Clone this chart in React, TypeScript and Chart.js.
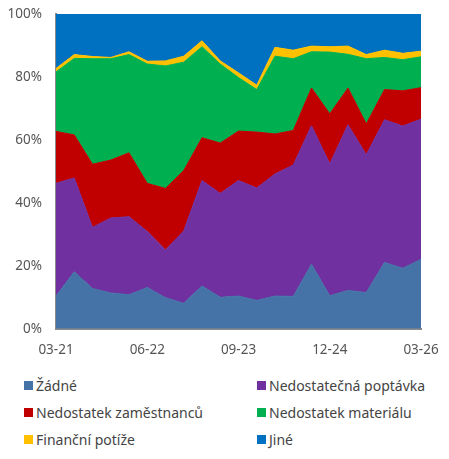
import React, { useEffect, useRef } from "react";
import { Chart, registerables } from "chart.js";

Chart.register(...registerables);

const quarters = [
  "03-21", "06-21", "09-21", "12-21", "03-22", "06-22", "09-22", "12-22",
  "03-23", "06-23", "09-23", "12-23", "03-24", "06-24", "09-24", "12-24",
  "03-25", "06-25", "09-25", "12-25", "03-26",
];

const zadne = [10.4, 18.1, 12.8, 11.4, 10.8, 13.1, 9.9, 8.1, 13.6, 10.0, 10.4, 9.0, 10.4, 10.3, 20.5, 10.5, 12.2, 11.5, 21.1, 19.2, 22.1];
const poptavka = [35.8, 29.8, 19.4, 23.8, 24.8, 17.8, 15.1, 23.0, 33.5, 33.0, 36.7, 35.7, 38.8, 41.7, 44.0, 41.9, 52.6, 43.8, 45.3, 45.2, 44.5];
const zamestnancu = [16.5, 13.7, 20.1, 18.4, 20.3, 15.3, 19.6, 19.2, 13.6, 16.0, 15.7, 17.8, 12.7, 11.0, 12.0, 15.9, 11.7, 9.8, 9.6, 11.2, 10.0];
const material = [18.9, 24.3, 33.5, 32.2, 31.2, 37.9, 38.9, 34.4, 28.9, 25.1, 17.0, 13.5, 24.7, 22.8, 11.5, 19.6, 10.7, 20.7, 10.2, 9.9, 9.8];
const financni = [1.1, 1.2, 0.7, 0.4, 0.9, 0.9, 1.6, 1.9, 1.9, 1.0, 1.5, 1.4, 2.8, 2.7, 1.8, 1.7, 2.6, 1.3, 2.3, 2.0, 1.8];
const jine = [17.3, 12.9, 13.5, 13.8, 12.0, 15.0, 14.9, 13.4, 8.5, 14.9, 18.7, 22.6, 10.6, 11.5, 10.2, 10.4, 10.2, 12.9, 11.5, 12.5, 11.8];

const seriesNames = [
  "Žádné",
  "Nedostatečná poptávka",
  "Nedostatek zaměstnanců",
  "Nedostatek materiálu",
  "Finanční potíže",
  "Jiné",
];
const seriesColors = ["#4573A7", "#7030A0", "#C00000", "#00B050", "#FFC000", "#0070C0"];
const seriesData = [zadne, poptavka, zamestnancu, material, financni, jine];

const FONT = "'Noto Sans', sans-serif";

export default function App() {
  const canvasRef = useRef<HTMLCanvasElement | null>(null);

  useEffect(() => {
    if (!canvasRef.current) return;
    const chart = new Chart(canvasRef.current, {
      type: "line",
      data: {
        labels: quarters,
        datasets: seriesData.map((d, i) => ({
          label: seriesNames[i],
          data: d,
          backgroundColor: seriesColors[i],
          borderColor: seriesColors[i],
          borderWidth: 1,
          pointRadius: 0,
          tension: 0,
          fill: i === 0 ? "origin" : "-1",
        })),
      },
      options: {
        animation: false,
        responsive: true,
        maintainAspectRatio: false,
        layout: { padding: { top: 14, right: 28, left: 0, bottom: 0 } },
        plugins: {
          legend: { display: false },
          tooltip: { enabled: false },
        },
        scales: {
          x: {
            offset: false,
            grid: { display: false, drawTicks: false },
            border: { display: true, color: "#8a8a8a", width: 2 },
            afterFit: (scale: any) => {
              scale.paddingLeft = 0;
              scale.paddingRight = 0;
            },
            ticks: {
              autoSkip: false,
              maxRotation: 0,
              padding: 13,
              color: "#555555",
              font: { family: FONT, size: 13.5 },
              callback: (_v: any, idx: number) => (idx % 5 === 0 ? quarters[idx] : ""),
            },
          },
          y: {
            stacked: true,
            min: 0,
            max: 100,
            grid: { display: false, drawTicks: false },
            border: { display: true, color: "#8a8a8a", width: 2 },
            afterFit: (scale: any) => {
              scale.width = 56;
              scale.paddingTop = 0;
              scale.paddingBottom = 0;
            },
            ticks: {
              stepSize: 20,
              padding: 14,
              color: "#555555",
              font: { family: FONT, size: 13.5 },
              callback: (v: any) => v + "%",
            },
          },
        },
      },
    });
    return () => chart.destroy();
  }, []);

  return (
    <div style={{ position: "absolute", left: 0, top: 0, width: 449, height: 459, background: "#fff" }}>
      <div style={{ position: "absolute", left: 0, top: 0, width: 449, height: 371 }}>
        <canvas ref={canvasRef} />
      </div>
      <div
        style={{
          position: "absolute",
          left: 24,
          top: 376,
          width: 425,
          display: "grid",
          gridTemplateColumns: "233px 192px",
          rowGap: 9,
          fontFamily: FONT,
          fontSize: 14,
          color: "#444444",
        }}
      >
        {seriesNames.map((n, i) => (
          <div key={n} style={{ display: "flex", alignItems: "center", height: 18, whiteSpace: "nowrap" }}>
            <span
              style={{
                display: "inline-block",
                width: 9,
                height: 9,
                background: seriesColors[i],
                marginRight: 3,
              }}
            />
            <span>{n}</span>
          </div>
        ))}
      </div>
    </div>
  );
}
